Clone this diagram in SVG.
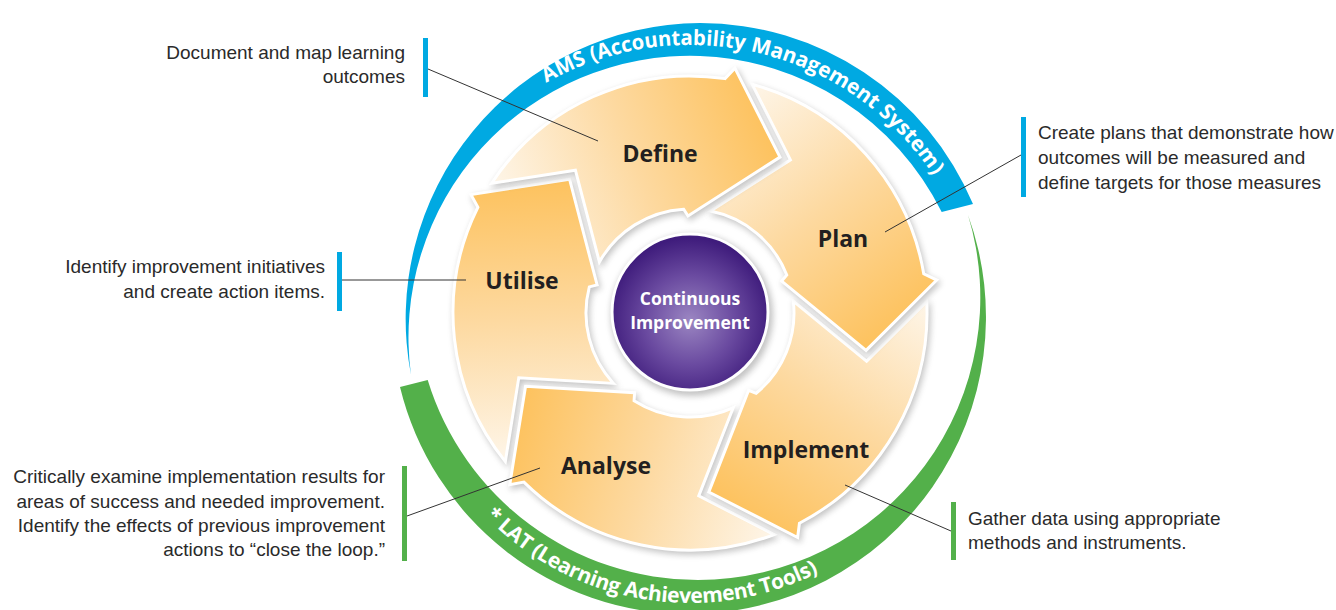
<svg xmlns="http://www.w3.org/2000/svg" width="1336" height="610" viewBox="0 0 1336 610">
<defs>
<style>
.note{font-family:"Liberation Sans",Arial,sans-serif;font-size:19px;fill:#2a2a2a}
.end{text-anchor:end}
.lbl{font-family:"Open Sans","Noto Sans",sans-serif;font-weight:700;font-size:23px;fill:#231f20;text-anchor:middle}
.ctr{font-family:"Open Sans","Noto Sans",sans-serif;font-weight:700;font-size:17.5px;fill:#fff;text-anchor:middle}
.ring{font-family:"Open Sans","Noto Sans",sans-serif;font-weight:700;font-size:21px;fill:#fff}
.lead{stroke:#333;stroke-width:1;fill:none}
.arr{fill:url(#og);stroke:#fff;stroke-width:3;stroke-linejoin:miter;stroke-miterlimit:4}
.shd{fill:#555;stroke:#555;stroke-width:3}
.blue{fill:#00a9e2}
.green{fill:#53b04a}
</style>
<linearGradient id="og" gradientUnits="userSpaceOnUse" x1="-190" y1="-100" x2="80" y2="-200">
<stop offset="0" stop-color="#fef6ea"/>
<stop offset="0.5" stop-color="#fdd9a0"/>
<stop offset="1" stop-color="#fdc15b"/>
</linearGradient>
<radialGradient id="pg" cx="690" cy="320" r="82" gradientUnits="userSpaceOnUse">
<stop offset="0" stop-color="#9b86c2"/>
<stop offset="0.55" stop-color="#6a4aa0"/>
<stop offset="1" stop-color="#3f1c7c"/>
</radialGradient>
<filter id="blur" x="-20%" y="-20%" width="140%" height="140%"><feGaussianBlur stdDeviation="3"/></filter>
<path id="arr" d="M -198.4,-129.7 A 237 237 0 0 1 35,-234.4 L 44.9,-244.9 L 90,-155.9 L -2,-97 L -6.3,-103.8 A 104 104 0 0 0 -90.6,-51 L -114.6,-142.8 Z"/>
<path id="amsPath" d="M 546.2,82.8 A 292 292 0 0 1 937.6,182.3"/>
<path id="latPath" d="M 485,516 A 285 285 0 0 0 823.8,569.6"/>
</defs>
<rect width="1336" height="610" fill="#fff"/>

<g id="ams-ring">
<path class="blue" d="M 973,204 A 296 296 0 0 0 700,23 A 296 296 0 0 0 411,375 A 281.5 281.5 0 0 1 700,56 A 281.5 281.5 0 0 1 941.7,212 Z"/>
<text class="ring"><textPath href="#amsPath" startOffset="0" textLength="45" lengthAdjust="spacingAndGlyphs">AMS</textPath></text>
<text class="ring"><textPath href="#amsPath" startOffset="51" textLength="154" lengthAdjust="spacingAndGlyphs">(Accountability</textPath></text>
<text class="ring"><textPath href="#amsPath" startOffset="211" textLength="137" lengthAdjust="spacingAndGlyphs">Management</textPath></text>
<text class="ring"><textPath href="#amsPath" startOffset="354" textLength="84" lengthAdjust="spacingAndGlyphs">System)</textPath></text>
</g>
<g id="lat-ring">
<path class="green" d="M 400,387 A 297.2 297.2 0 0 0 688.8,614 A 297.2 297.2 0 0 0 968,215 A 282.5 282.5 0 0 1 698,580 A 282.5 282.5 0 0 1 427.7,380 Z"/>
<text class="ring"><textPath href="#latPath" textLength="362" lengthAdjust="spacing">* LAT (Learning Achievement Tools)</textPath></text>
</g>

<g id="utilise">
<g transform="translate(692 316)" filter="url(#blur)" opacity="0.35"><use href="#arr" class="shd" transform="rotate(288)"/></g>
<use href="#arr" class="arr" transform="translate(690 313) rotate(288)"/>
<text class="lbl" x="522" y="289">Utilise</text>
</g>
<g id="analyse">
<g transform="translate(692 316)" filter="url(#blur)" opacity="0.35"><use href="#arr" class="shd" transform="rotate(216)"/></g>
<use href="#arr" class="arr" transform="translate(690 313) rotate(216)"/>
<text class="lbl" x="606" y="474">Analyse</text>
</g>
<g id="implement">
<g transform="translate(692 316)" filter="url(#blur)" opacity="0.35"><use href="#arr" class="shd" transform="rotate(144)"/></g>
<use href="#arr" class="arr" transform="translate(690 313) rotate(144)"/>
<text class="lbl" x="806" y="458">Implement</text>
</g>
<g id="plan">
<g transform="translate(692 316)" filter="url(#blur)" opacity="0.35"><use href="#arr" class="shd" transform="rotate(72)"/></g>
<use href="#arr" class="arr" transform="translate(690 313) rotate(72)"/>
<text class="lbl" x="843" y="247">Plan</text>
</g>
<g id="define">
<g transform="translate(692 316)" filter="url(#blur)" opacity="0.35"><use href="#arr" class="shd"/></g>
<use href="#arr" class="arr" transform="translate(690 313)"/>
<text class="lbl" x="660" y="162">Define</text>
</g>

<g id="continuous-improvement">
<circle cx="692" cy="315" r="81" fill="#555" opacity="0.35" filter="url(#blur)"/>
<circle cx="690" cy="312" r="78" fill="url(#pg)" stroke="#fff" stroke-width="3"/>
<text class="ctr"><tspan x="690" y="305">Continuous</tspan><tspan x="690" y="329">Improvement</tspan></text>
</g>

<g id="note-define">
<rect class="blue" x="423" y="38" width="5" height="59"/>
<text class="note end"><tspan x="405" y="59">Document and map learning</tspan><tspan x="405" y="83">outcomes</tspan></text>
</g>
<g id="note-plan">
<rect class="blue" x="1021" y="117" width="5" height="80"/>
<text class="note"><tspan x="1038" y="139">Create plans that demonstrate how</tspan><tspan x="1038" y="164">outcomes will be measured and</tspan><tspan x="1038" y="189">define targets for those measures</tspan></text>
</g>
<g id="note-utilise">
<rect class="blue" x="337" y="252" width="5" height="59"/>
<text class="note end"><tspan x="325" y="273">Identify improvement initiatives</tspan><tspan x="325" y="298">and create action items.</tspan></text>
</g>
<g id="note-analyse">
<rect class="green" x="402" y="466" width="5" height="95"/>
<text class="note end"><tspan x="385" y="483">Critically examine implementation results for</tspan><tspan x="385" y="508">areas of success and needed improvement.</tspan><tspan x="385" y="532">Identify the effects of previous improvement</tspan><tspan x="385" y="556">actions to “close the loop.”</tspan></text>
</g>
<g id="note-implement">
<rect class="green" x="951" y="502" width="5" height="58"/>
<text class="note"><tspan x="968" y="525">Gather data using appropriate</tspan><tspan x="968" y="549">methods and instruments.</tspan></text>
</g>

<g id="connectors">
<line class="lead" x1="428" y1="69" x2="598" y2="141"/>
<line class="lead" x1="885" y1="232" x2="1021" y2="155"/>
<line class="lead" x1="342" y1="280" x2="466" y2="280"/>
<line class="lead" x1="407" y1="516" x2="540" y2="468"/>
<line class="lead" x1="845" y1="485" x2="951" y2="531"/>
</g>
</svg>
